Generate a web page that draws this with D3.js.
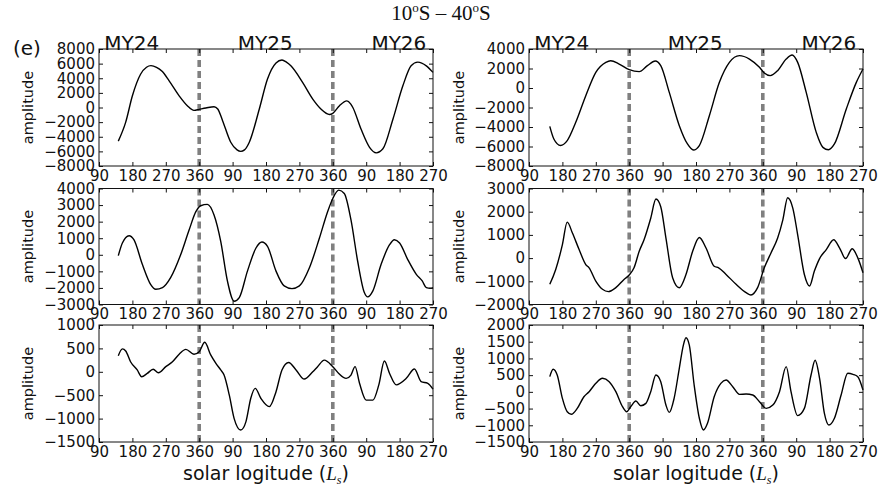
<!DOCTYPE html>
<html><head><meta charset="utf-8">
<script src="https://cdn.jsdelivr.net/npm/d3@7"></script>
<style>
body{margin:0;background:#fff}
svg{display:block}
text{font-family:"DejaVu Sans",sans-serif;fill:#111}
</style></head><body>
<svg id="c" width="892" height="496"></svg>
<script>
// ---------- data ----------
const titleParts = ["10", "o", "S \u2013 40", "o", "S"];
const panelTag = "(e)";
const yearLabels = ["MY24", "MY25", "MY26"];
const yearLabelLs = [178, 538, 898];
const yearBoundaries = [360, 720];
const xTickValues = [90, 180, 270, 360, 450, 540, 630, 720, 810, 900, 990];
const yLabel = "amplitude";
const xLabel = "solar logitude (";

const yDomains = [[-8000, 8000], [-8000, 4000], [-3000, 4000], [-2000, 3000], [-1500, 1000], [-1500, 2000]];
const yTickSteps = [2000, 2000, 1000, 1000, 500, 500];

const seriesTopLeft = [[142,-4600],[162,-2000],[180,1600],[202,4550],[218,5500],[230,5720],[245,5500],[260,4950],[279,3650],[306,1600],[328,250],[346,-390],[360,-250],[378,-70],[400,110],[410,-200],[423,-1800],[445,-4750],[462,-5800],[472,-6000],[482,-5800],[495,-4750],[522,-200],[544,3900],[567,6100],[583,6500],[595,6200],[607,5700],[639,3400],[666,1150],[688,-200],[711,-950],[720,-800],[738,250],[758,900],[768,500],[774,0],[796,-2950],[819,-5450],[837,-6200],[855,-5650],[882,-1600],[909,3000],[931,5700],[949,6200],[972,5700],[990,4800]];
const seriesTopRight = [[146,-3930],[157,-5230],[175,-5900],[193,-5400],[216,-3520],[243,-790],[270,1600],[297,2630],[310,2800],[333,2460],[360,1880],[387,1680],[409,2290],[430,2770],[445,2290],[468,-450],[495,-3860],[517,-5740],[533,-6360],[549,-5900],[576,-2840],[603,580],[630,2630],[657,3320],[684,2970],[711,2120],[724,1540],[740,1270],[760,1780],[783,2970],[799,3390],[814,2630],[837,-450],[864,-4550],[882,-6090],[897,-6330],[913,-5740],[945,-2150],[972,580],[990,1950]];
const seriesMidLeft = [[142,-50],[153,710],[171,1150],[184,910],[207,-590],[229,-1780],[243,-2080],[261,-1980],[283,-1380],[310,0],[333,1510],[351,2600],[364,2960],[382,3040],[400,2400],[418,810],[436,-1580],[454,-2800],[468,-2580],[490,-985],[513,410],[529,770],[544,510],[567,-985],[589,-1880],[610,-2040],[630,-1880],[657,-785],[684,1010],[706,2600],[720,3400],[736,3900],[751,3700],[769,2100],[787,-390],[805,-2280],[814,-2540],[828,-2180],[850,-590],[873,610],[886,910],[900,710],[922,-290],[945,-1180],[961,-1580],[972,-1980],[983,-2020],[990,-1980]];
const seriesMidRight = [[146,-1130],[162,-490],[180,580],[193,1550],[207,1080],[225,370],[243,-280],[252,-420],[270,-990],[288,-1345],[304,-1445],[324,-1275],[346,-920],[360,-730],[373,-420],[387,295],[400,790],[418,1720],[432,2545],[445,2215],[459,865],[477,-845],[495,-1275],[513,-705],[531,295],[549,890],[567,435],[589,-350],[601,-420],[621,-705],[648,-1130],[675,-1490],[688,-1590],[706,-1275],[724,-420],[742,220],[760,865],[774,1650],[787,2600],[801,2145],[814,1005],[832,-705],[846,-1200],[859,-560],[873,-20],[891,365],[911,790],[927,435],[943,-20],[961,405],[976,10],[990,-630]];
const seriesBotLeft = [[142,345],[153,490],[162,445],[175,215],[193,40],[205,-105],[220,-35],[236,55],[250,-20],[270,110],[288,215],[306,375],[324,480],[346,375],[360,430],[375,630],[391,360],[405,180],[418,40],[427,-70],[441,-495],[454,-995],[472,-1245],[486,-1065],[499,-565],[511,-355],[526,-565],[549,-745],[567,-425],[583,40],[601,200],[621,40],[643,-155],[666,0],[679,110],[697,250],[720,110],[736,-35],[756,-140],[769,-70],[780,110],[792,-245],[810,-605],[828,-605],[844,-280],[859,230],[873,-35],[891,-280],[918,-140],[940,60],[958,-210],[976,-245],[990,-370]];
const seriesBotRight = [[146,455],[155,675],[166,505],[180,-195],[193,-595],[204,-670],[220,-495],[238,-145],[252,5],[270,255],[288,405],[306,305],[324,5],[342,-445],[353,-595],[364,-445],[378,-275],[391,-415],[405,-345],[418,5],[432,505],[445,305],[459,-395],[468,-615],[481,-195],[495,705],[506,1400],[513,1620],[522,1400],[535,205],[549,-790],[560,-1140],[571,-940],[589,-145],[607,255],[621,355],[639,155],[657,-75],[675,-65],[693,-95],[711,-295],[729,-495],[747,-395],[765,5],[783,755],[796,5],[814,-710],[832,-495],[850,505],[861,945],[873,405],[886,-645],[898,-990],[913,-790],[931,-95],[949,555],[963,525],[976,455],[990,55]];
const allSeries = [seriesTopLeft, seriesTopRight, seriesMidLeft, seriesMidRight, seriesBotLeft, seriesBotRight];

// ---------- layout ----------
const cols = [{x0: 99, x1: 433}, {x0: 529, x1: 863}];
const rows = [{y0: 49, y1: 166}, {y0: 188.5, y1: 304.5}, {y0: 325, y1: 442}];
const TICK_FS = 15;

const svg = d3.select("#c");

// title
const title = svg.append("text").attr("x", 441).attr("y", 19.5).attr("text-anchor", "middle")
  .style("font-family", "'Liberation Serif','Times New Roman',serif").style("font-size", "21px");
titleParts.forEach((t, i) => {
  const ts = title.append("tspan").text(t);
  if (t === "o") ts.attr("dy", -8).style("font-size", "13px");
  else if (i > 0) ts.attr("dy", 8);
});

svg.append("text").attr("x", 13).attr("y", 55).style("font-size", "20px").text(panelTag);

const fmtY = d => d < 0 ? "\u2212" + Math.abs(d) : String(d);
const fmtX = d => { const m = d % 360; return String(m === 0 ? 360 : m); };

allSeries.forEach((data, idx) => {
  const r = Math.floor(idx / 2), c = idx % 2;
  const {x0, x1} = cols[c];
  const {y0, y1} = rows[r];
  const x = d3.scaleLinear().domain([90, 990]).range([x0, x1]);
  const y = d3.scaleLinear().domain(yDomains[idx]).range([y1, y0]);
  const yt = d3.range(yDomains[idx][0], yDomains[idx][1] + 1, yTickSteps[idx]);
  const g = svg.append("g");

  // year boundary dashed lines
  g.selectAll("line.yb").data(yearBoundaries).join("line")
    .attr("x1", d => x(d)).attr("x2", d => x(d)).attr("y1", y0).attr("y2", y1)
    .attr("stroke", "#808080").attr("stroke-width", 3.6).attr("stroke-dasharray", "7,4");

  // curve
  const line = d3.line().x(d => x(d[0])).y(d => y(d[1])).curve(d3.curveMonotoneX);
  g.append("path").datum(data).attr("d", line).attr("fill", "none")
    .attr("stroke", "#000").attr("stroke-width", 1.4);

  // axes
  const styleAxis = sel => {
    sel.select(".domain").remove();
    sel.selectAll(".tick line").attr("stroke", "#111");
    sel.attr("font-size", null).attr("font-family", null);
    sel.selectAll("text").style("font-size", TICK_FS + "px").attr("fill", "#111");
  };
  g.append("g").attr("transform", `translate(${x0},0)`)
    .call(d3.axisLeft(y).tickValues(yt).tickSizeInner(-4).tickSizeOuter(0).tickPadding(4).tickFormat(fmtY)).call(styleAxis);
  g.append("g").attr("transform", `translate(${x1},0)`)
    .call(d3.axisRight(y).tickValues(yt).tickSizeInner(-4).tickSizeOuter(0).tickFormat("")).call(styleAxis);
  g.append("g").attr("transform", `translate(0,${y1})`)
    .call(d3.axisBottom(x).tickValues(xTickValues).tickSizeInner(-4).tickSizeOuter(0).tickPadding(4).tickFormat(fmtX)).call(styleAxis);
  g.append("g").attr("transform", `translate(0,${y0})`)
    .call(d3.axisTop(x).tickValues(xTickValues).tickSizeInner(-4).tickSizeOuter(0).tickFormat("")).call(styleAxis);

  // frame
  g.append("rect").attr("x", x0).attr("y", y0).attr("width", x1 - x0).attr("height", y1 - y0)
    .attr("fill", "none").attr("stroke", "#111").attr("stroke-width", 1);

  // y label
  const ylx = c === 0 ? 27.5 : 458.5;
  g.append("text").attr("transform", `translate(${ylx},${(y0 + y1) / 2}) rotate(-90)`)
    .attr("text-anchor", "middle").attr("dy", "0.35em").style("font-size", "14.5px").text(yLabel);

  // year labels on top row
  if (r === 0) {
    g.selectAll("text.yr").data(yearLabels).join("text")
      .attr("x", (d, i) => x(yearLabelLs[i])).attr("y", y0 + 0.5).attr("text-anchor", "middle")
      .style("font-size", "20px").text(d => d);
  }
  // x label on bottom row
  if (r === 2) {
    const t = g.append("text").attr("x", (x0 + x1) / 2).attr("y", 480).attr("text-anchor", "middle")
      .style("font-size", "19px");
    t.append("tspan").text(xLabel);
    t.append("tspan").style("font-family", "'Liberation Serif',serif").style("font-style", "italic").text("L");
    t.append("tspan").attr("dy", 4).style("font-family", "'Liberation Serif',serif").style("font-style", "italic").style("font-size", "12px").text("s");
    t.append("tspan").attr("dy", -4).text(")");
  }
});
</script>
</body></html>
